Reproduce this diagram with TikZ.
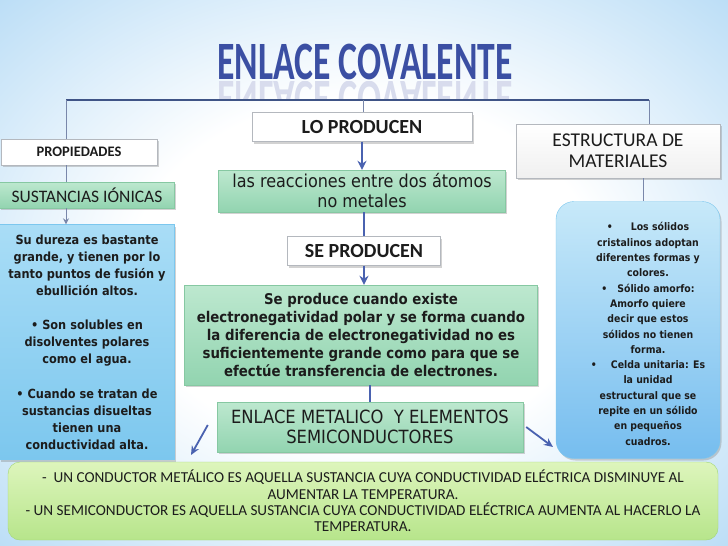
\documentclass[tikz,border=0pt]{standalone}
\usepackage{fontspec}
\usepackage{graphicx}
\setmainfont{DejaVu Sans Condensed}
\newfontfamily\calfont{Carlito}
\usetikzlibrary{positioning,shadows,arrows.meta}

\definecolor{bgblue}{HTML}{88C2EE}
\definecolor{bglight}{HTML}{BADDF6}
\definecolor{titleblue}{HTML}{3B4FA3}
\definecolor{barblue}{HTML}{3F5486}
\definecolor{arrowblue}{HTML}{4A62B0}
\definecolor{boxgray}{HTML}{B4B8BE}
\definecolor{greentop}{HTML}{BDE8CF}
\definecolor{greenbot}{HTML}{92D4B0}
\definecolor{greenline}{HTML}{86C8A2}
\definecolor{bluetop}{HTML}{A9DDF6}
\definecolor{bluebot}{HTML}{7CC7EE}
\definecolor{limetop}{HTML}{DDF5BC}
\definecolor{limebot}{HTML}{B7E58B}
\definecolor{limeline}{HTML}{A2D672}
\definecolor{inktext}{HTML}{1C1C1C}

\pgfdeclareradialshading{bgshade}{\pgfpoint{0bp}{0bp}}{color(0bp)=(white); color(16bp)=(white); color(36bp)=(bglight); color(56bp)=(bgblue); color(72bp)=(bgblue)}

\tikzset{
  boxshadow/.style={drop shadow={opacity=0.35, shadow xshift=1.5pt, shadow yshift=-2pt}},
  whitebox/.style={rectangle, draw=boxgray, fill=white, boxshadow, text=inktext, font=\calfont\bfseries\fontsize{20}{22}\selectfont},
  greenbox/.style={rectangle, draw=greenline, top color=greentop, bottom color=greenbot, boxshadow, text=inktext, align=center},
  bluebox/.style={rectangle, draw=bluebot, top color=bluetop, bottom color=bluebot, boxshadow, text=inktext, align=center},
  bar/.style={draw=barblue, line width=2.2pt},
  thinlink/.style={draw=barblue!70, line width=1pt},
  biglink/.style={draw=arrowblue, line width=2.6pt},
  bigarrow/.style={biglink, -{Stealth[length=9pt,width=9pt]}},
  sidearrow/.style={draw=arrowblue, line width=1.8pt, -{Stealth[length=9pt,width=8pt]}}
}

\begin{document}
\begin{tikzpicture}[x=1pt,y=-1pt]
\useasboundingbox (0,0) rectangle (728,546);
\shade[shading=bgshade] (0,0) rectangle (728,546);

% title and its reflection
\node (title) [text=titleblue, inner sep=0pt] at (365,62)
  {\calfont\bfseries\fontsize{54}{54}\selectfont\scalebox{0.66}[1]{ENLACE COVALENTE}};
\begin{scope}
\clip (200,81) rectangle (530,98);
\node (mirror) [text=titleblue!20, anchor=north, inner sep=0pt] at (365,81)
  {\calfont\bfseries\fontsize{54}{54}\selectfont\scalebox{0.66}[-1]{ENLACE COVALENTE}};
\end{scope}

\coordinate (barL) at (66,100);
\coordinate (barM) at (363,100);
\coordinate (barR) at (649,100);
\draw[bar] (barL) -- (barR);

% left column
\node (prop) [whitebox, minimum width=156pt, minimum height=26pt, font=\calfont\bfseries\fontsize{14.5}{15}\selectfont] at (79,152) {PROPIEDADES};
\node (ionic) [greenbox, minimum width=175pt, minimum height=26pt, font=\calfont\fontsize{17.5}{19}\selectfont] at (87,195) {SUSTANCIAS IÓNICAS};
\node (lbox) [bluebox, minimum width=175pt, minimum height=235pt, font=\bfseries\fontsize{12.6}{17.1}\selectfont] at (87,342)
  {Su dureza es bastante\\ grande, y tienen por lo\\ tanto puntos de fusión y\\ ebullición altos.\\[17.1pt]
   • Son solubles en\\ disolventes polares\\ como el agua.\\[17.1pt]
   • Cuando se tratan de\\ sustancias disueltas\\ tienen una\\ conductividad alta.};

\draw[thinlink] (barL) -- (barL |- prop.north);
\draw[thinlink] (barL |- prop.south) -- (barL |- ionic.north);
\draw[thinlink, -{Stealth[length=6pt,width=6pt,open]}] (barL |- ionic.south) -- (barL |- lbox.north);

% middle column
\node (lopro) [whitebox, minimum width=220pt, minimum height=29pt] at (362,127) {LO PRODUCEN};
\node (reac) [greenbox, minimum width=287pt, minimum height=42pt, font=\fontsize{17.8}{20}\selectfont] at (362,191)
  {las reacciones entre dos átomos\\ no metales};
\node (sepro) [whitebox, minimum width=153pt, minimum height=29pt] at (364,251) {SE PRODUCEN};
\node (expl) [greenbox, minimum width=353pt, minimum height=100pt, font=\bfseries\fontsize{14.8}{18.2}\selectfont] at (361,335)
  {Se produce cuando existe\\ electronegatividad polar y se forma cuando\\ la diferencia de electronegatividad no es\\ suficientemente grande como para que se\\ efectúe transferencia de electrones.};
\node (metal) [greenbox, minimum width=306pt, minimum height=50pt, font=\fontsize{18.2}{20.5}\selectfont] at (370,427)
  {ENLACE METALICO\ \ Y ELEMENTOS\\ SEMICONDUCTORES};

\draw[thinlink] (barM) -- (barM |- lopro.north);
\draw[bigarrow] (lopro) -- (reac);
\draw[biglink] (reac.south -| sepro) -- (sepro);
\draw[bigarrow] (sepro) -- (sepro |- expl.north);
\draw[biglink] (expl.south -| metal) -- (metal);

% right column
\node (estr) [rectangle, draw=boxgray, top color=white, bottom color=gray!12, boxshadow, text=inktext,
  minimum width=204pt, minimum height=54pt, align=center, font=\calfont\fontsize{19.5}{21}\selectfont] at (618,151)
  {ESTRUCTURA DE\\ MATERIALES};
\node (rbox) [bluebox, rounded corners=18pt, top color=bluetop!65, bottom color=bluebot!95!blue, minimum width=164pt, minimum height=257pt] at (638,330) {};
\node (rtext) [align=center, text=inktext, font=\bfseries\fontsize{10.4}{15.3}\selectfont] at ([xshift=10pt,yshift=-4pt]rbox.center)
  {•\hspace{18pt}Los sólidos\\ cristalinos adoptan\\ diferentes formas y\\ colores.\\
   •\hspace{10pt}Sólido amorfo:\\ Amorfo quiere\\ decir que estos\\ sólidos no tienen\\ forma.\\
   •\hspace{14pt}Celda unitaria: Es\\ la unidad\\ estructural que se\\ repite en un sólido\\ en pequeños\\ cuadros.};

\draw[thinlink] (barR) -- (barR |- estr.north);
\draw[thinlink] ([xshift=5pt]rbox.north |- estr.south) -- ([xshift=5pt]rbox.north);

% bottom
\node (bottom) [rectangle, rounded corners=12pt, draw=limeline, top color=limetop, bottom color=limebot, text=inktext,
  minimum width=710pt, minimum height=78pt, align=center, font=\calfont\fontsize{15.2}{16.4}\selectfont] at (363,501)
  {-\ \ UN CONDUCTOR METÁLICO ES AQUELLA SUSTANCIA CUYA CONDUCTIVIDAD ELÉCTRICA DISMINUYE AL\\
   AUMENTAR LA TEMPERATURA.\\
   - UN SEMICONDUCTOR ES AQUELLA SUSTANCIA CUYA CONDUCTIVIDAD ELÉCTRICA AUMENTA AL HACERLO LA\\
   TEMPERATURA.};

\coordinate (tipL) at (191,455);
\coordinate (tipR) at (553,447);
\draw[sidearrow] ([xshift=-9pt,yshift=2pt]metal.west) -- (tipL);
\draw[sidearrow] ([xshift=3pt]metal.east) -- (tipR);
\end{tikzpicture}
\end{document}
